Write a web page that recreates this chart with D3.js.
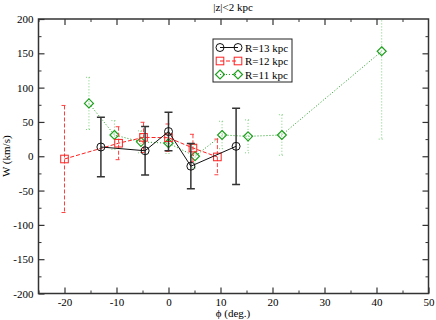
<!DOCTYPE html>
<html>
<head>
<meta charset="utf-8">
<script src="https://cdn.jsdelivr.net/npm/d3@7"></script>
<style>
  body { margin: 0; background: #fff; }
  text { font-family: "Liberation Serif", "DejaVu Serif", serif; }
</style>
</head>
<body>
<script>
var w = 436,
    h = 320,
    margin = {left: 38.5, right: 7.5, top: 19, bottom: 26.5};

// R=13 kpc
var phi13 = [-13, -4.5, 0, 4.3, 13],
    w13   = [13.5, 8, 36, -14.5, 14.5],
    err13 = [43.5, 35.5, 28, 33, 55.5];

// R=12 kpc
var phi12 = [-20, -9.6, -4.8, 0, 4.7, 9.4],
    w12   = [-4, 19, 27.5, 27, 12, -1],
    err12 = [78, 24, 22, 20, 20, 26];

// R=11 kpc
var phi11 = [-15.3, -10.4, -5.3, 0, 5.1, 10.3, 15.3, 21.8, 41],
    w11   = [77, 31, 21, 19, 0, 31, 29, 31, 153],
    err11 = [38, 21, 16, 15, 17, 20, 24, 29.5, 128];

var xTicks = [-20, -10, 0, 10, 20, 30, 40, 50],
    yTicks = [-200, -150, -100, -50, 0, 50, 100, 150, 200];

var x = d3.scaleLinear().domain([-25, 50]).range([margin.left, w - margin.right]);
var y = d3.scaleLinear().domain([-200, 200]).range([h - margin.bottom, margin.top]);

var svg = d3.select("body")
            .append("svg")
            .attr("width", w)
            .attr("height", h);

svg.append("clipPath").attr("id", "clip")
    .append("rect")
    .attr("x", x(-25)).attr("y", y(200))
    .attr("width", x(50) - x(-25)).attr("height", y(-200) - y(200));

var frameColor = "#333";
// plain hyphen for negatives, like the original
var fmt = function(d) { return String(d); };

// minor ticks first, then major axes with labels
function minor(axis, pos, values) {
    var g = svg.append("g")
        .attr("transform", pos)
        .call(axis.tickValues(values).tickSize(-3).tickFormat(""));
    g.select(".domain").remove();
    g.selectAll("line").attr("stroke", frameColor);
}
var xMinor = d3.range(-25, 51, 5).filter(function(d) { return d % 10 != 0; });
var yMinor = d3.range(-175, 200, 50);
minor(d3.axisBottom(x), "translate(0," + y(-200) + ")", xMinor);
minor(d3.axisTop(x), "translate(0," + y(200) + ")", xMinor);
minor(d3.axisLeft(y), "translate(" + x(-25) + ",0)", yMinor);
minor(d3.axisRight(y), "translate(" + x(50) + ",0)", yMinor);

function major(axis, pos, labels) {
    var g = svg.append("g")
        .attr("transform", pos)
        .call(axis.tickSizeInner(-6).tickSizeOuter(0).tickPadding(5));
    if (!labels) g.selectAll("text").remove();
    g.select(".domain").remove();
    g.selectAll("line").attr("stroke", frameColor).attr("stroke-width", 1.2);
    g.selectAll("text")
        .attr("font-size", "11px")
        .attr("font-family", "Liberation Serif")
        .attr("fill", "#000");
    return g;
}
major(d3.axisBottom(x).tickValues(xTicks).tickFormat(fmt), "translate(0," + y(-200) + ")", true);
major(d3.axisTop(x).tickValues(xTicks.slice(0, -1)), "translate(0," + y(200) + ")", false);
major(d3.axisLeft(y).tickValues(yTicks).tickFormat(fmt), "translate(" + x(-25) + ",0)", true);
major(d3.axisRight(y).tickValues(yTicks.slice(1, -1)), "translate(" + x(50) + ",0)", false);

svg.append("rect")
    .attr("x", x(-25)).attr("y", y(200))
    .attr("width", x(50) - x(-25)).attr("height", y(-200) - y(200))
    .attr("fill", "none")
    .attr("stroke", frameColor)
    .attr("stroke-width", 1.5);

var plot = svg.append("g").attr("clip-path", "url(#clip)");

var series = [
    {phi: phi11, w: w11, err: err11, color: "#1fa01f", errColor: "#7ccf7c", dash: "1,2", errDash: "1,2", shape: "diamond", cap: 6, width: 1},
    {phi: phi12, w: w12, err: err12, color: "#ff2020", errColor: "#ff4040", dash: "4,2", errDash: "4,2", shape: "square", cap: 6, width: 1},
    {phi: phi13, w: w13, err: err13, color: "#111", errColor: "#333", dash: null, errDash: null, shape: "circle", cap: 8, width: 1.5}
];

function drawMarker(g, shape, cx, cy, color) {
    if (shape == "circle") {
        g.append("circle").attr("cx", cx).attr("cy", cy).attr("r", 4)
            .attr("fill", "none").attr("stroke", color).attr("stroke-width", 1);
    } else if (shape == "square") {
        g.append("rect").attr("x", cx - 3.8).attr("y", cy - 3.8)
            .attr("width", 7.6).attr("height", 7.6)
            .attr("fill", "none").attr("stroke", color).attr("stroke-width", 1);
    } else {
        g.append("path")
            .attr("d", "M" + cx + "," + (cy - 4.5) + "L" + (cx + 4.5) + "," + cy +
                       "L" + cx + "," + (cy + 4.5) + "L" + (cx - 4.5) + "," + cy + "Z")
            .attr("fill", "none").attr("stroke", color).attr("stroke-width", 1.2);
    }
}

series.forEach(function(s) {
    var pts = s.phi.map(function(p, i) { return {phi: p, w: s.w[i], e: s.err[i]}; });
    var g = plot.append("g");

    // error bars
    pts.forEach(function(d) {
        var eg = g.append("g")
            .attr("stroke", s.errColor)
            .attr("stroke-width", s.width)
            .attr("stroke-dasharray", s.errDash);
        eg.append("line")
            .attr("x1", x(d.phi)).attr("x2", x(d.phi))
            .attr("y1", y(d.w + d.e)).attr("y2", y(d.w - d.e));
        [d.w + d.e, d.w - d.e].forEach(function(v) {
            eg.append("line")
                .attr("x1", x(d.phi) - s.cap / 2).attr("x2", x(d.phi) + s.cap / 2)
                .attr("y1", y(v)).attr("y2", y(v))
                .attr("stroke-dasharray", null);
        });
    });

    g.append("path")
        .datum(pts)
        .attr("fill", "none")
        .attr("stroke", s.color)
        .attr("stroke-width", 1)
        .attr("stroke-dasharray", s.dash)
        .attr("d", d3.line().x(function(d) { return x(d.phi); }).y(function(d) { return y(d.w); }));

    pts.forEach(function(d) { drawMarker(g, s.shape, x(d.phi), y(d.w), s.color); });
});

// legend
var legendNames = ["R=13 kpc", "R=12 kpc", "R=11 kpc"];
var lg = svg.append("g");
lg.append("rect")
    .attr("x", 213).attr("y", 39)
    .attr("width", 79).attr("height", 43)
    .attr("fill", "#fff")
    .attr("stroke", "#222")
    .attr("stroke-width", 1);
[series[2], series[1], series[0]].forEach(function(s, i) {
    var ly = 47.5 + i * 13.5;
    lg.append("line")
        .attr("x1", 220).attr("x2", 238)
        .attr("y1", ly).attr("y2", ly)
        .attr("stroke", s.color)
        .attr("stroke-dasharray", s.dash);
    drawMarker(lg, s.shape, 220, ly, s.color);
    drawMarker(lg, s.shape, 238, ly, s.color);
    lg.append("text")
        .attr("x", 245).attr("y", ly + 4)
        .attr("font-size", "11px")
        .attr("fill", "#000")
        .text(legendNames[i]);
});

// titles
svg.append("text")
    .attr("x", 233).attr("y", 11)
    .attr("text-anchor", "middle")
    .attr("font-size", "11px")
    .text("|z|<2 kpc");

svg.append("text")
    .attr("x", 233).attr("y", 317)
    .attr("text-anchor", "middle")
    .attr("font-size", "11px")
    .text("ϕ (deg.)");

svg.append("text")
    .attr("transform", "translate(10," + y(0) + ") rotate(-90)")
    .attr("text-anchor", "middle")
    .attr("font-size", "11px")
    .text("W (km/s)");
</script>
</body>
</html>
